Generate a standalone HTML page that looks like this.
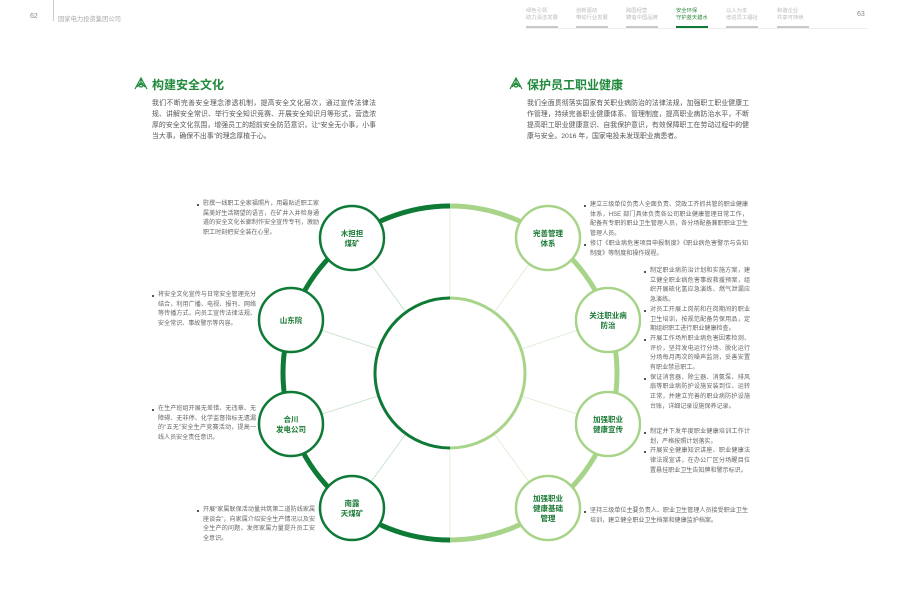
<!DOCTYPE html>
<html><head><meta charset="utf-8">
<style>
body{margin:0;background:#fff;}
#p{position:relative;width:900px;height:611px;overflow:hidden;background:#fff;font-family:"Liberation Sans","Noto Sans CJK SC",sans-serif;color:#777;}
.a{position:absolute;}
.nav{position:absolute;top:8px;font-size:5.3px;line-height:6.5px;color:#bbb;white-space:nowrap;}
.bar{position:absolute;top:26px;width:32px;height:2px;background:#c8c8c8;}
.t{font-size:6.85px;line-height:11px;color:#555;text-align:justify;}
.s{font-size:6.05px;line-height:9.7px;color:#666;text-align:justify;}
.s p{margin:0;padding-left:6px;position:relative;}
.s p:before{content:"";position:absolute;left:0;top:4px;width:2px;height:2px;background:#555;}
.h{font-size:12px;font-weight:bold;color:#1f8a3b;}
</style></head><body><div id="p">
<div class="a" style="left:30px;top:13px;font-size:7px;color:#888;">62</div>
<div class="a" style="left:53px;top:0;width:1px;height:21px;background:#ccc;"></div>
<div class="a" style="left:58px;top:14px;font-size:6.3px;color:#aaa;">国家电力投资集团公司</div>

<div class="a" style="left:526px;top:28px;width:342px;height:1px;background:#eee;"></div>
<div class="nav" style="left:526px">绿色引领<br>助力清洁发展</div><div class="bar" style="left:526px"></div>
<div class="nav" style="left:576px">创新驱动<br>带动行业发展</div><div class="bar" style="left:576px"></div>
<div class="nav" style="left:626px">跨国经营<br>铸造中国品牌</div><div class="bar" style="left:626px"></div>
<div class="nav" style="left:676px;color:#2e8b3e">安全环保<br>守护蓝天碧水</div><div class="bar" style="left:676px;background:#0e7a35"></div>
<div class="nav" style="left:726px">以人为本<br>增进员工福祉</div><div class="bar" style="left:726px"></div>
<div class="nav" style="left:777px">和谐企业<br>共享可持续</div><div class="bar" style="left:777px"></div>
<div class="a" style="left:857px;top:11px;font-size:7px;color:#888;">63</div>

<svg class="a" style="left:133px;top:76px" width="16" height="14" viewBox="0 0 16 14"><g fill="none" stroke="#1f8a3b" stroke-width="1.2"><path d="M2 13 L8 2 L14 13 M8 2 L8 9 M4 11 Q8 6 12 11"/><circle cx="8" cy="9" r="2"/></g></svg>
<div class="a h" style="left:152px;top:76px;">构建安全文化</div>
<div class="a t" style="left:152px;top:98px;width:224px;">我们不断完善安全理念渗透机制，提高安全文化层次，通过宣传法律法规、讲解安全常识、举行安全知识竞赛、开展安全知识月等形式，营造浓厚的安全文化氛围，增强员工的超前安全防范意识，让“安全无小事，小事当大事，确保不出事”的理念厚植于心。</div>

<svg class="a" style="left:508px;top:76px" width="16" height="14" viewBox="0 0 16 14"><g fill="none" stroke="#1f8a3b" stroke-width="1.2"><path d="M2 13 L8 2 L14 13 M8 2 L8 9 M4 11 Q8 6 12 11"/><circle cx="8" cy="9" r="2"/></g></svg>
<div class="a h" style="left:527px;top:76px;">保护员工职业健康</div>
<div class="a t" style="left:527px;top:98px;width:222px;">我们全面贯彻落实国家有关职业病防治的法律法规，加强职工职业健康工作管理，持续完善职业健康体系、管理制度，提高职业病防治水平，不断提高职工职业健康意识、自我保护意识，有效保障职工在劳动过程中的健康与安全。2016 年，国家电投未发现职业病患者。</div>

<svg class="a" style="left:0;top:0" width="900" height="611">
<g stroke-width="0.8" opacity="0.6">
<line x1="450" y1="206" x2="450" y2="540" stroke="#c5e0b4"/>
<line x1="450" y1="373" x2="352" y2="238" stroke="#9cc9a0"/>
<line x1="450" y1="373" x2="291" y2="320" stroke="#9cc9a0"/>
<line x1="450" y1="373" x2="291" y2="424" stroke="#9cc9a0"/>
<line x1="450" y1="373" x2="352" y2="508" stroke="#9cc9a0"/>
<line x1="450" y1="373" x2="548" y2="238" stroke="#c5e0b4"/>
<line x1="450" y1="373" x2="608" y2="320" stroke="#c5e0b4"/>
<line x1="450" y1="373" x2="608" y2="424" stroke="#c5e0b4"/>
<line x1="450" y1="373" x2="548" y2="508" stroke="#c5e0b4"/>
</g>
<path d="M450 206 A167 167 0 0 0 450 540" fill="none" stroke="#0e7a35" stroke-width="5"/>
<path d="M450 206 A167 167 0 0 1 450 540" fill="none" stroke="#a8d48a" stroke-width="5"/>
<path d="M450 298 A75 75 0 0 0 450 448" fill="#fff" stroke="#0e7a35" stroke-width="3"/>
<path d="M450 298 A75 75 0 0 1 450 448" fill="#fff" stroke="#a8d48a" stroke-width="3"/>
<g fill="#fff" stroke="#0e7a35" stroke-width="2.5">
<circle cx="352" cy="238" r="32"/><circle cx="291" cy="320" r="32"/><circle cx="291" cy="424" r="32"/><circle cx="352" cy="508" r="32"/>
</g>
<g fill="#fff" stroke="#a8d48a" stroke-width="2.5">
<circle cx="548" cy="238" r="32"/><circle cx="608" cy="320" r="32"/><circle cx="608" cy="424" r="32"/><circle cx="548" cy="508" r="32"/>
</g>
<g font-family="Liberation Sans, Noto Sans CJK SC, sans-serif" font-size="7.5" font-weight="bold" fill="#1a7a34" text-anchor="middle">
<text x="352" y="236">木担担</text><text x="352" y="246">煤矿</text>
<text x="291" y="323">山东院</text>
<text x="291" y="422">合川</text><text x="291" y="432">发电公司</text>
<text x="352" y="506">南露</text><text x="352" y="516">天煤矿</text>
<text x="548" y="236">完善管理</text><text x="548" y="246">体系</text>
<text x="608" y="318">关注职业病</text><text x="608" y="328">防治</text>
<text x="608" y="422">加强职业</text><text x="608" y="432">健康宣传</text>
<text x="548" y="501">加强职业</text><text x="548" y="511">健康基础</text><text x="548" y="521">管理</text>
</g>
</svg>

<div class="a s" style="left:197px;top:200px;width:122px;"><p>慰撰一线职工全家福照片，用最贴近职工家属美好生活期望的语言，在矿井入井检身通道的安全文化长廊制作安全宣传专刊，激励职工时刻把安全装在心里。</p></div>
<div class="a s" style="left:152px;top:291px;width:104px;"><p>将安全文化宣传与日常安全管理充分结合，利用广播、电视、报刊、网络等传播方式，向员工宣传法律法规、安全常识、事故警示等内容。</p></div>
<div class="a s" style="left:152px;top:405px;width:104px;"><p>在生产班组开展无差错、无违章、无障碍、无非停、化学监督指标无遗漏的“五无”安全生产竞赛活动，提高一线人员安全责任意识。</p></div>
<div class="a s" style="left:197px;top:506px;width:118px;"><p>开展“家属联保活动量共筑第二道防线家属座谈会”，向家属介绍安全生产情况以及安全生产的问题，发挥家属力量提升员工安全意识。</p></div>

<div class="a s" style="left:584px;top:201px;width:164px;"><p>建立三级单位负责人全面负责、党政工齐抓共管的职业健康体系，HSE 部门具体负责各公司职业健康管理日常工作，配备有专职的职业卫生管理人员，各分场配备兼职职业卫生管理人员。</p><p>修订《职业病危害项目申报制度》《职业病危害警示与告知制度》等制度和操作规程。</p></div>
<div class="a s" style="left:644px;top:267px;width:106px;"><p>制定职业病防治计划和实施方案，建立健全职业病危害事故救援预案，组织开展硫化氢应急演练、燃气泄漏应急演练。</p><p>对员工开展上岗前和在岗期间的职业卫生培训，按规范配备劳保用品，定期组织职工进行职业健康检查。</p><p>开展工作场所职业病危害因素检测、评价，坚持发电运行分场、脱化运行分场每月两次的噪声监测，妥善安置有职业禁忌职工。</p><p>保证消音器、除尘器、消氨泵、排风扇等职业病防护设施安装到位、运转正常，并建立完善的职业病防护设施台账，详细记录设施保养记录。</p></div>
<div class="a s" style="left:644px;top:428px;width:106px;"><p>制定并下发年度职业健康培训工作计划，严格按照计划落实。</p><p>开展安全健康知识讲座、职业健康法律法规宣讲，在办公厂区分场醒目位置悬挂职业卫生告知牌和警示标识。</p></div>
<div class="a s" style="left:584px;top:507px;width:164px;"><p>坚持三级单位主要负责人、职业卫生管理人员接受职业卫生培训，建立健全职业卫生档案和健康监护档案。</p></div>
</div></body></html>
